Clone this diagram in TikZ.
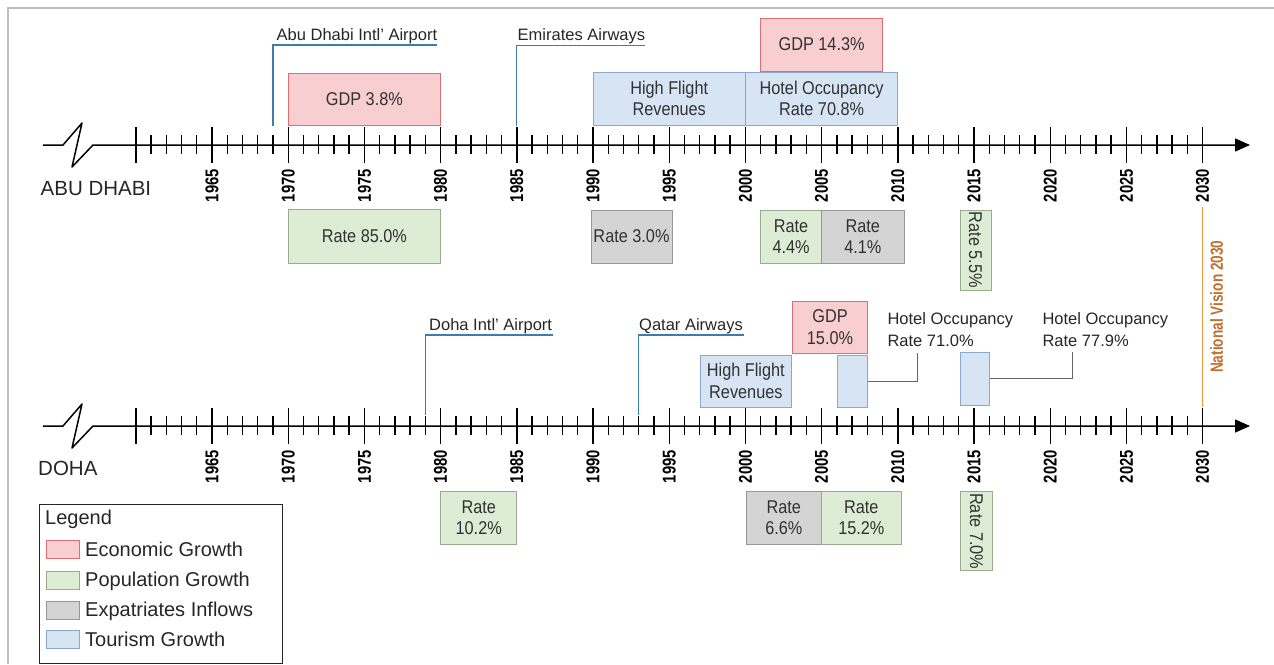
\documentclass[tikz,border=0pt]{standalone}
\usepackage{fontspec}
\setmainfont{Liberation Sans}
\newfontfamily\boxfnt{Liberation Sans}[FakeStretch=0.88]
\newfontfamily\yearfnt{Liberation Sans}[FakeStretch=0.8]
\newfontfamily\visfnt{Liberation Sans}[FakeStretch=0.78]
\usetikzlibrary{arrows.meta}
\definecolor{ecofill}{RGB}{248,206,208}
\definecolor{ecodraw}{RGB}{222,110,118}
\definecolor{popfill}{RGB}{221,236,212}
\definecolor{popdraw}{RGB}{150,172,140}
\definecolor{expfill}{RGB}{212,212,212}
\definecolor{expdraw}{RGB}{150,150,150}
\definecolor{tourfill}{RGB}{214,228,244}
\definecolor{tourdraw}{RGB}{140,168,200}
\definecolor{callblue}{RGB}{62,124,170}
\definecolor{visline}{RGB}{240,150,70}
\definecolor{vistext}{RGB}{192,110,45}
\definecolor{txtcol}{RGB}{50,50,50}
\definecolor{framegray}{RGB}{190,190,190}
\tikzset{
  axisline/.style={line width=1.5pt, black, line join=round},
  tickline/.style={line width=1.4pt, black},
  yearlbl/.style={rotate=90, anchor=east, inner sep=0pt, font=\yearfnt\bfseries\fontsize{18.5}{20}\selectfont},
  evbox/.style={draw, line width=0.9pt, inner sep=0pt, align=center, text=txtcol,
    font=\boxfnt\fontsize{18.5}{21.5}\selectfont},
  ecobox/.style={evbox, fill=ecofill, draw=ecodraw},
  popbox/.style={evbox, fill=popfill, draw=popdraw},
  expbox/.style={evbox, fill=expfill, draw=expdraw},
  tourbox/.style={evbox, fill=tourfill, draw=tourdraw},
  calltext/.style={inner sep=0pt, text=black!85, font=\fontsize{16.5}{22}\selectfont},
  callline/.style={line width=1.3pt, callblue},
  hotline/.style={line width=0.8pt, black!60},
  citylbl/.style={inner sep=0pt, anchor=base west, text=black!85, font=\fontsize{20.5}{24}\selectfont},
  legtext/.style={inner sep=0pt, anchor=base west, text=black!85, font=\fontsize{20}{24}\selectfont},
  swatch/.style={line width=0.9pt, minimum width=33pt, minimum height=18pt, inner sep=0pt},
}
\begin{document}
\begin{tikzpicture}[x=1pt, y=-1pt]
\useasboundingbox (0,0) rectangle (1274,664);
% frame
\draw[framegray, line width=2pt] (8,664) -- (8,8) -- (1274,8);

% ---------- axes ----------
\coordinate (adS) at (43,145);
\coordinate (adE) at (1250,145);
\coordinate (dhS) at (43,426);
\coordinate (dhE) at (1250,426);
\draw[axisline, -{Triangle[length=15pt,width=13pt]}] (adS) -- ++(20,0) -- ++(19,-22) -- ++(-10,44) -- ++(21,-22) -- (adE);
\draw[axisline, -{Triangle[length=15pt,width=13pt]}] (dhS) -- ++(20,0) -- ++(19,-22) -- ++(-10,44) -- ++(21,-22) -- (dhE);

\foreach \ay/\pf in {145/a,426/d}{
  \foreach \yy in {1960,...,2030}{
    \pgfmathsetmacro\xx{212+(\yy-1965)*15.24}
    \pgfmathtruncatemacro\mm{mod(\yy,5)}
    \ifnum\mm=0
      \draw[tickline] (\xx,\ay-18) -- (\xx,\ay+18);
    \else
      \draw[tickline] (\xx,\ay-10) -- (\xx,\ay+9);
    \fi
  }
  \foreach \yy in {1965,1970,...,2030}{
    \pgfmathsetmacro\xx{212+(\yy-1965)*15.24}
    \node[yearlbl] (\pf\yy) at (\xx,\ay+24) {\yy};
  }
}

\node[citylbl] (adname) at (40.5,195) {ABU DHABI};
\node[citylbl] (dhname) at (38,475.7) {DOHA};

% ---------- Abu Dhabi callouts ----------
\coordinate (c1a) at (272.96,126);
\coordinate (c1b) at (437,45);
\draw[callline] (c1a) |- (c1b);
\node[calltext, anchor=base west] (adair) at (276.5,40.5) {Abu Dhabi Intl' Airport};
\coordinate (c2a) at (516.8,126);
\coordinate (c2b) at (645,45.5);
\draw[callline] (c2a) |- (c2b);
\node[calltext, anchor=base west] (ademi) at (517.5,40.7) {Emirates Airways};

% ---------- Abu Dhabi boxes ----------
\node[ecobox, minimum width=152.4pt, minimum height=52pt] (adgdp1) at (364.4,99) {GDP 3.8\%};
\node[popbox, minimum width=152.4pt, minimum height=54pt] (adpop1) at (364.4,236) {Rate 85.0\%};
\node[tourbox, minimum width=152.4pt, minimum height=53pt] (adtour1) at (669.2,98.5) {High Flight\\Revenues};
\node[tourbox, minimum width=152.4pt, minimum height=53pt] (adtour2) at (821.6,98.5) {Hotel Occupancy\\Rate 70.8\%};
\node[ecobox, minimum width=122pt, minimum height=53pt] (adgdp2) at (821.6,44.5) {GDP 14.3\%};
\node[expbox, minimum width=81pt, minimum height=53pt] (adexp1) at (631.5,236.5) {Rate 3.0\%};
\node[popbox, minimum width=61pt, minimum height=53pt] (adpop2) at (791.1,236.5) {Rate\\4.4\%};
\node[expbox, minimum width=82.4pt, minimum height=53pt] (adexp2) at (862.8,236.5) {Rate\\4.1\%};
\node[popbox, rotate=-90, minimum width=80pt, minimum height=31pt] (adpop3) at (975.5,250) {Rate 5.5\%};

% ---------- Doha callouts ----------
\coordinate (c3a) at (425.36,415);
\coordinate (c3b) at (553,335);
\draw[callline] (c3a) |- (c3b);
\node[calltext, anchor=base west] (dhair) at (429,330) {Doha Intl' Airport};
\coordinate (c4a) at (638.72,415);
\coordinate (c4b) at (744,335);
\draw[callline] (c4a) |- (c4b);
\node[calltext, anchor=base west] (dhqat) at (639,330) {Qatar Airways};

% ---------- Doha boxes ----------
\node[tourbox, minimum width=90.3pt, minimum height=52pt] (dhtour1) at (745.85,381) {High Flight\\Revenues};
\node[ecobox, minimum width=75.4pt, minimum height=52pt] (dhgdp1) at (830,327) {GDP\\15.0\%};
\node[tourbox, minimum width=30pt, minimum height=51.3pt] (dhtour2) at (852.7,381.35) {};
\node[tourbox, minimum width=29.3pt, minimum height=52.7pt] (dhtour3) at (974.65,378.65) {};
\node[popbox, minimum width=76pt, minimum height=52.3pt] (dhpop1) at (478.7,517.85) {Rate\\10.2\%};
\node[expbox, minimum width=74.3pt, minimum height=52.3pt] (dhexp1) at (783.85,517.85) {Rate\\6.6\%};
\node[popbox, minimum width=80.7pt, minimum height=52.3pt] (dhpop2) at (861.35,517.85) {Rate\\15.2\%};
\node[popbox, rotate=-90, minimum width=79pt, minimum height=31.6pt] (dhpop3) at (976.5,531.2) {Rate 7.0\%};

% hotel occupancy callouts
\node[calltext, anchor=north west, align=left] (dhhot1) at (887.3,312.3) {Hotel Occupancy\\Rate 71.0\%};
\node[calltext, anchor=north west, align=left] (dhhot2) at (1042.3,312.3) {Hotel Occupancy\\Rate 77.9\%};
\coordinate (hc1) at (917.3,353);
\coordinate (hc2) at (1072,352);
\draw[hotline] (dhtour2.east) -| (hc1);
\draw[hotline] (dhtour3.east) -| (hc2);

% ---------- National Vision ----------
\coordinate (nv1) at (1202.6,207);
\coordinate (nv2) at (1202.6,407);
\draw[visline, line width=1.6pt] (nv1) -- (nv2);
\node[rotate=90, inner sep=0pt, text=vistext, font=\visfnt\bfseries\fontsize{17.5}{20}\selectfont] (nvtext) at (1216.7,306.7) {National Vision 2030};

% ---------- Legend ----------
\node[draw=black!85, line width=1pt, minimum width=243.4pt, minimum height=159pt, inner sep=0pt] (legendbox) at (161,583.5) {};
\node[legtext] (legtitle) at (45,524.3) {Legend};
\node[swatch, fill=ecofill, draw=ecodraw] (sw1) at (62.5,549.5) {};
\node[swatch, fill=popfill, draw=popdraw] (sw2) at (62.5,580) {};
\node[swatch, fill=expfill, draw=expdraw] (sw3) at (62.5,610) {};
\node[swatch, fill=tourfill, draw=tourdraw] (sw4) at (62.5,639) {};
\node[legtext] (lt1) at (85,556.7) {Economic Growth};
\node[legtext] (lt2) at (85,586.7) {Population Growth};
\node[legtext] (lt3) at (85,616.7) {Expatriates Inflows};
\node[legtext] (lt4) at (85,646.7) {Tourism Growth};
\end{tikzpicture}
\end{document}
